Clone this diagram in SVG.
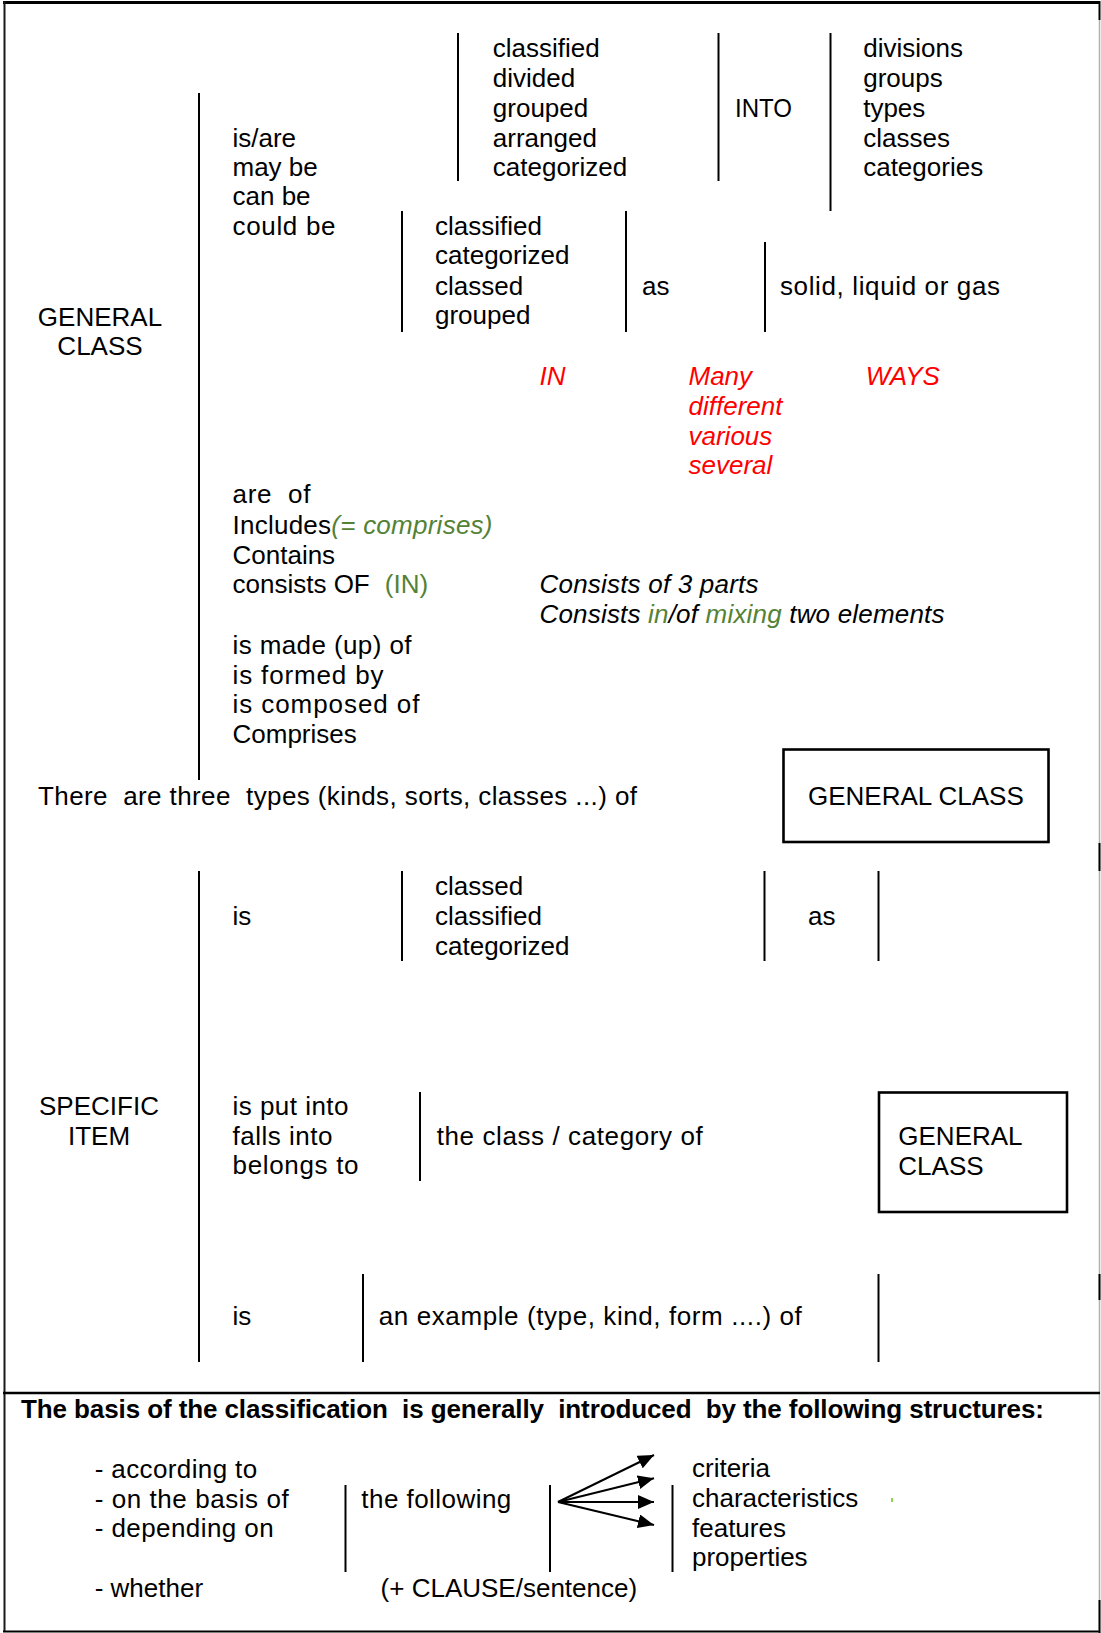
<svg xmlns="http://www.w3.org/2000/svg" width="1101" height="1633" viewBox="0 0 1101 1633">
<style>
text{font-family:"Liberation Sans",Arial,sans-serif;font-size:26px;fill:#000}
.r{fill:#ff0000;font-style:italic}
.g{fill:#548235;font-style:italic}
.gn{fill:#548235}
.i{font-style:italic}
.b{font-weight:bold}
.m{text-anchor:middle}
.pre{white-space:pre}
.ln{stroke:#000;stroke-width:2;fill:none}
.box{stroke:#000;stroke-width:2.6;fill:none}
</style>
<defs>
<marker id="ah" viewBox="0 0 16 14" refX="16" refY="7" markerWidth="16" markerHeight="14" markerUnits="userSpaceOnUse" orient="auto"><path d="M0,0 L16,7 L0,14 Z" fill="#000"/></marker>
</defs>
<rect x="0" y="0" width="1101" height="1633" fill="#fff"/>
<g id="frame">
<line x1="3" y1="2.5" x2="1100" y2="2.5" stroke="#000" stroke-width="3"/>
<line x1="4.5" y1="1" x2="4.5" y2="1632" stroke="#1a1a1a" stroke-width="2"/>
<line x1="3" y1="1631.5" x2="1100" y2="1631.5" stroke="#000" stroke-width="2"/>
<line x1="1099.5" y1="20" x2="1099.5" y2="1633" stroke="#b0b0b0" stroke-width="1.5"/>
<line x1="1099.5" y1="1" x2="1099.5" y2="20" stroke="#000" stroke-width="2"/>
<line x1="1099.5" y1="843" x2="1099.5" y2="871" stroke="#000" stroke-width="2"/>
<line x1="1099.5" y1="1274" x2="1099.5" y2="1300" stroke="#000" stroke-width="2"/>
<line x1="1099.5" y1="1600" x2="1099.5" y2="1633" stroke="#000" stroke-width="2"/>
<line x1="3" y1="1393" x2="1100" y2="1393" stroke="#000" stroke-width="2.6"/>
</g>
<g id="connectors">
<line class="ln" x1="199" y1="93" x2="199" y2="780"/>
<line class="ln" x1="458" y1="33" x2="458" y2="181"/>
<line class="ln" x1="718.5" y1="33" x2="718.5" y2="181"/>
<line class="ln" x1="830.5" y1="33" x2="830.5" y2="211"/>
<line class="ln" x1="402" y1="211" x2="402" y2="332"/>
<line class="ln" x1="626" y1="211" x2="626" y2="332"/>
<line class="ln" x1="765" y1="242" x2="765" y2="332"/>
<line class="ln" x1="199" y1="871" x2="199" y2="1362"/>
<line class="ln" x1="402" y1="871" x2="402" y2="961"/>
<line class="ln" x1="764.5" y1="871" x2="764.5" y2="961"/>
<line class="ln" x1="878.5" y1="871" x2="878.5" y2="961"/>
<line class="ln" x1="420" y1="1092" x2="420" y2="1181"/>
<line class="ln" x1="363" y1="1274" x2="363" y2="1362"/>
<line class="ln" x1="878.5" y1="1274" x2="878.5" y2="1362"/>
<line class="ln" x1="345.5" y1="1485" x2="345.5" y2="1572"/>
<line class="ln" x1="550" y1="1485" x2="550" y2="1572"/>
<line class="ln" x1="672.5" y1="1485" x2="672.5" y2="1572"/>
<line class="ln" x1="558" y1="1502" x2="654" y2="1455" marker-end="url(#ah)"/>
<line class="ln" x1="558" y1="1502" x2="654" y2="1478.3" marker-end="url(#ah)"/>
<line class="ln" x1="558" y1="1502" x2="654" y2="1502" marker-end="url(#ah)"/>
<line class="ln" x1="558" y1="1502" x2="654" y2="1525" marker-end="url(#ah)"/>
</g>
<g id="general-class">
<text class="m" x="100" y="326">GENERAL</text>
<text class="m" x="100" y="355">CLASS</text>
</g>
<g id="verbs-passive">
<text x="232.5" y="146.7">is/are</text>
<text x="232.5" y="175.5">may be</text>
<text x="232.5" y="204.5">can be</text>
<text x="232.5" y="234.5" textLength="103" lengthAdjust="spacing">could be</text>
</g>
<g id="divided-verbs">
<text x="492.8" y="57">classified</text>
<text x="492.8" y="87">divided</text>
<text x="492.8" y="117">grouped</text>
<text x="492.8" y="146.7">arranged</text>
<text x="492.8" y="175.5">categorized</text>
</g>
<g id="into"><text x="735" y="117" textLength="57" lengthAdjust="spacingAndGlyphs">INTO</text></g>
<g id="group-nouns">
<text x="863.2" y="57">divisions</text>
<text x="863.2" y="87">groups</text>
<text x="863.2" y="117">types</text>
<text x="863.2" y="146.7">classes</text>
<text x="863.2" y="175.5">categories</text>
</g>
<g id="classed-verbs">
<text x="435" y="234.5">classified</text>
<text x="435" y="264.3">categorized</text>
<text x="435" y="295">classed</text>
<text x="435" y="324.3">grouped</text>
</g>
<g id="as-1"><text x="642" y="295">as</text></g>
<g id="example-states"><text x="780" y="295" textLength="220" lengthAdjust="spacing">solid, liquid or gas</text></g>
<g id="in-many-ways">
<text class="r" x="539.5" y="385">IN</text>
<text class="r" x="688.5" y="385">Many</text>
<text class="r" x="688.5" y="415">different</text>
<text class="r" x="688.5" y="444.5">various</text>
<text class="r" x="688.5" y="473.5">several</text>
<text class="r" x="865.7" y="385">WAYS</text>
</g>
<g id="verbs-composition">
<text class="pre" xml:space="preserve" x="232.5" y="503.3" textLength="78" lengthAdjust="spacing">are  of</text>
<text x="232.5" y="534" textLength="260" lengthAdjust="spacing">Includes<tspan class="g">(= comprises)</tspan></text>
<text x="232.5" y="564">Contains</text>
<text x="232.5" y="593.3">consists OF <tspan class="gn" x="384.8">(IN)</tspan></text>
<text x="232.5" y="654" textLength="179" lengthAdjust="spacing">is made (up) of</text>
<text x="232.5" y="684" textLength="151" lengthAdjust="spacing">is formed by</text>
<text x="232.5" y="713.3" textLength="187" lengthAdjust="spacing">is composed of</text>
<text x="232.5" y="742.7">Comprises</text>
</g>
<g id="consists-examples">
<text class="i" x="539.5" y="593.3" textLength="219" lengthAdjust="spacing">Consists of 3 parts</text>
<text class="i" x="539.5" y="623.3" textLength="405" lengthAdjust="spacing">Consists <tspan class="g">in</tspan>/of <tspan class="g">mixing</tspan> two elements</text>
</g>
<g id="three-types"><text class="pre" xml:space="preserve" x="38" y="805" textLength="599" lengthAdjust="spacing">There  are three  types (kinds, sorts, classes ...) of</text></g>
<g id="general-class-box-1">
<rect class="box" x="783.5" y="749.5" width="265" height="92.5"/>
<text x="808" y="805">GENERAL CLASS</text>
</g>
<g id="specific-item">
<text class="m" x="99" y="1115">SPECIFIC</text>
<text class="m" x="99" y="1145">ITEM</text>
</g>
<g id="is-1"><text x="232.5" y="925">is</text></g>
<g id="classed-verbs-2">
<text x="435" y="895">classed</text>
<text x="435" y="925">classified</text>
<text x="435" y="955">categorized</text>
</g>
<g id="as-2"><text x="808" y="925">as</text></g>
<g id="belongs-verbs">
<text x="232.5" y="1115" textLength="116" lengthAdjust="spacing">is put into</text>
<text x="232.5" y="1144.5" textLength="100" lengthAdjust="spacing">falls into</text>
<text x="232.5" y="1174" textLength="126" lengthAdjust="spacing">belongs to</text>
</g>
<g id="class-of"><text x="436.7" y="1145" textLength="266" lengthAdjust="spacing">the class / category of</text></g>
<g id="general-class-box-2">
<rect class="box" x="879" y="1092.5" width="188" height="119.5"/>
<text x="898.3" y="1145">GENERAL</text>
<text x="898.3" y="1175">CLASS</text>
</g>
<g id="is-2"><text x="232.5" y="1325">is</text></g>
<g id="example-of"><text x="378.8" y="1325" textLength="423" lengthAdjust="spacing">an example (type, kind, form ....) of</text></g>
<g id="basis-heading"><text class="b pre" xml:space="preserve" x="21" y="1418" textLength="1023" lengthAdjust="spacing">The basis of the classification  is generally  introduced  by the following structures:</text></g>
<g id="basis-phrases">
<text x="94.7" y="1478" textLength="162.5" lengthAdjust="spacing">- according to</text>
<text x="94.7" y="1507.5" textLength="194" lengthAdjust="spacing">- on the basis of</text>
<text x="94.7" y="1537" textLength="179" lengthAdjust="spacing">- depending on</text>
<text x="94.7" y="1596.7">- whether</text>
</g>
<g id="the-following"><text x="361.3" y="1507.5" textLength="150" lengthAdjust="spacing">the following</text></g>
<g id="clause"><text x="380.6" y="1596.7">(+ CLAUSE/sentence)</text></g>
<g id="criteria">
<text x="692" y="1477.3">criteria</text>
<text x="692" y="1507.3">characteristics</text>
<text x="692" y="1537.3">features</text>
<text x="692" y="1565.7">properties</text>
</g>
<rect x="891" y="1498" width="2" height="4" fill="#8ed44f"/>
</svg>
